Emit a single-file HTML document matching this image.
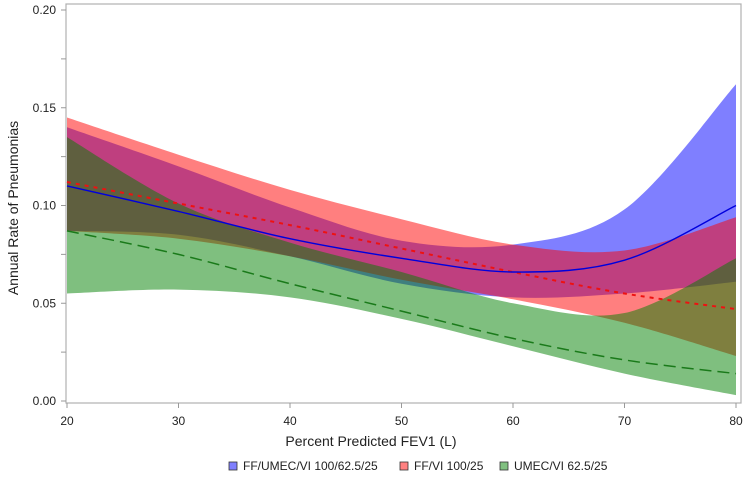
<!DOCTYPE html>
<html><head><meta charset="utf-8">
<style>
body{margin:0;background:#fff;}
svg{display:block;font-family:"Liberation Sans",Arial,sans-serif;}
</style></head>
<body>
<svg id="chart" width="748" height="479" viewBox="0 0 748 479">
  <g id="bands"></g>
  <g id="lines"></g>
  <rect x="66" y="4" width="675" height="399" fill="none" stroke="#b0b0b0" stroke-width="1.2"/>
  <g id="axes"></g>
  <text x="371" y="446" text-anchor="middle" font-size="14" fill="#222">Percent Predicted FEV1 (L)</text>
  <text transform="translate(18,208) rotate(-90)" text-anchor="middle" font-size="14" fill="#222">Annual Rate of Pneumonias</text>
  <g font-size="12" fill="#222">
    <g>
      <rect x="229" y="462" width="8" height="8" fill="#8080ff" stroke="#333" stroke-width="0.8"/>
      <text x="243" y="470">FF/UMEC/VI 100/62.5/25</text>
    </g>
    <g>
      <rect x="400" y="462" width="8" height="8" fill="#ff8080" stroke="#333" stroke-width="0.8"/>
      <text x="414" y="470">FF/VI 100/25</text>
    </g>
    <g>
      <rect x="500" y="462" width="8" height="8" fill="#80c080" stroke="#333" stroke-width="0.8"/>
      <text x="514" y="470">UMEC/VI 62.5/25</text>
    </g>
  </g>
</svg>
<script>
const xValues = [20, 30, 40, 50, 60, 70, 80];
const blueFit = [0.110, 0.097, 0.083, 0.073, 0.066, 0.072, 0.100];
const blueUpper = [0.140, 0.120, 0.099, 0.082, 0.080, 0.098, 0.162];
const blueLower = [0.087, 0.085, 0.074, 0.060, 0.053, 0.055, 0.061];
const redFit = [0.112, 0.101, 0.090, 0.078, 0.066, 0.055, 0.047];
const redUpper = [0.145, 0.126, 0.108, 0.093, 0.080, 0.077, 0.094];
const redLower = [0.087, 0.083, 0.074, 0.062, 0.052, 0.040, 0.023];
const greenFit = [0.087, 0.075, 0.060, 0.046, 0.032, 0.021, 0.014];
const greenUpper = [0.135, 0.101, 0.081, 0.066, 0.050, 0.045, 0.073];
const greenLower = [0.055, 0.057, 0.053, 0.042, 0.028, 0.014, 0.003];
const xTicks = [20, 30, 40, 50, 60, 70, 80];
const yTicks = [0.00, 0.05, 0.10, 0.15, 0.20];
const yMinor = [0.025, 0.075, 0.125, 0.175];

const NS = "http://www.w3.org/2000/svg";
function xs(v){ return 67 + (v - 20) * (669 / 60); }
function ys(v){ return 401 - v * (391 / 0.20); }
function pts(a){ return a.map((v,i)=>[xs(xValues[i]), ys(v)]); }
function smooth(p, move){
  let d = (move ? "M" : "L") + p[0][0].toFixed(1) + "," + p[0][1].toFixed(1);
  for (let i=0;i<p.length-1;i++){
    const p0=p[i-1]||p[i], p1=p[i], p2=p[i+1], p3=p[i+2]||p2;
    const c1=[p1[0]+(p2[0]-p0[0])/6, p1[1]+(p2[1]-p0[1])/6];
    const c2=[p2[0]-(p3[0]-p1[0])/6, p2[1]-(p3[1]-p1[1])/6];
    d += "C"+c1[0].toFixed(1)+","+c1[1].toFixed(1)+" "+c2[0].toFixed(1)+","+c2[1].toFixed(1)+" "+p2[0].toFixed(1)+","+p2[1].toFixed(1);
  }
  return d;
}
const bands = document.getElementById("bands");
const lines = document.getElementById("lines");
function band(up, lo, color, name){
  const el = document.createElementNS(NS,"path");
  el.setAttribute("d", smooth(pts(up), true) + smooth(pts(lo).reverse(), false) + "Z");
  el.setAttribute("fill", color);
  el.setAttribute("fill-opacity", "0.5");
  
  
  bands.appendChild(el);
}
band(blueUpper, blueLower, "#0000ff", "band-ff-umec-vi");
band(redUpper, redLower, "#ff0000", "band-ff-vi");
band(greenUpper, greenLower, "#008000", "band-umec-vi");
function line(vals, color, dash, w, name){
  const el = document.createElementNS(NS,"path");
  el.setAttribute("d", smooth(pts(vals), true));
  el.setAttribute("fill", "none");
  el.setAttribute("stroke", color);
  el.setAttribute("stroke-width", w);
  if (dash) el.setAttribute("stroke-dasharray", dash);
  
  
  lines.appendChild(el);
}
line(greenFit, "#1a7a1a", "12,6", 1.5, "line-umec-vi");
line(redFit, "#ee1111", "4,5", 2, "line-ff-vi");
line(blueFit, "#0000dd", null, 1.4, "line-ff-umec-vi");

const axes = document.getElementById("axes");
xTicks.forEach(t=>{
  const l = document.createElementNS(NS,"line");
  l.setAttribute("x1", xs(t)); l.setAttribute("x2", xs(t));
  l.setAttribute("y1", 403); l.setAttribute("y2", 408);
  l.setAttribute("stroke", "#999");
  
  
  axes.appendChild(l);
  const tx = document.createElementNS(NS,"text");
  tx.setAttribute("x", xs(t)); tx.setAttribute("y", 425);
  tx.setAttribute("text-anchor", "middle");
  tx.setAttribute("font-size", "12"); tx.setAttribute("fill", "#222");
  tx.textContent = t;
  
  
  axes.appendChild(tx);
});
yTicks.concat(yMinor).forEach(t=>{
  const l = document.createElementNS(NS,"line");
  l.setAttribute("x1", 61); l.setAttribute("x2", 66);
  l.setAttribute("y1", ys(t)); l.setAttribute("y2", ys(t));
  l.setAttribute("stroke", "#999");
  
  
  axes.appendChild(l);
});
yTicks.forEach(t=>{
  const tx = document.createElementNS(NS,"text");
  tx.setAttribute("x", 56); tx.setAttribute("y", ys(t)+4);
  tx.setAttribute("text-anchor", "end");
  tx.setAttribute("font-size", "12"); tx.setAttribute("fill", "#222");
  tx.textContent = t.toFixed(2);
  
  
  axes.appendChild(tx);
});
</script>
</body></html>
